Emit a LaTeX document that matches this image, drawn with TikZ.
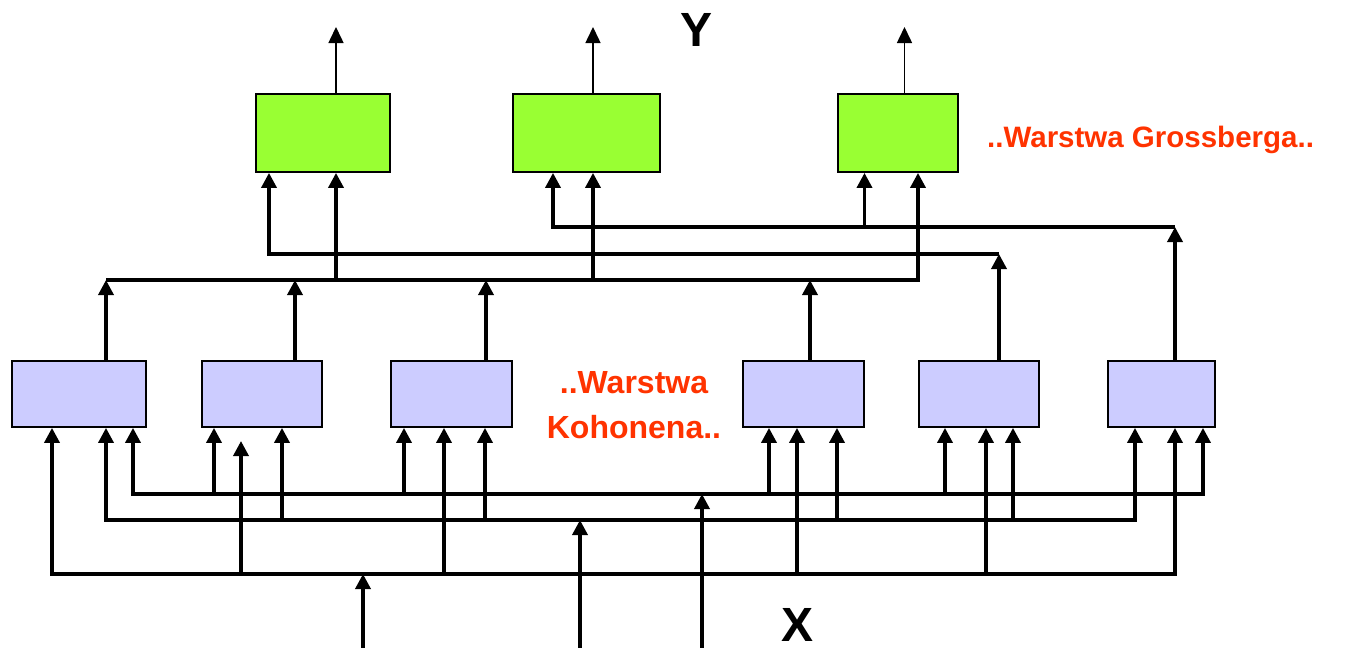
\documentclass[tikz,border=0pt]{standalone}
\usepackage{fontspec}
\setmainfont{Liberation Sans}
\usetikzlibrary{arrows.meta}
\definecolor{kohfill}{RGB}{204,204,255}
\definecolor{grossfill}{RGB}{153,255,51}
\definecolor{layertext}{RGB}{255,51,0}

\begin{document}
\begin{tikzpicture}[x=1pt,y=-1pt,
  unit/.style={draw=black, line width=1.8pt, inner sep=0pt},
  kohunit/.style={unit, fill=kohfill, minimum height=66pt},
  grossunit/.style={unit, fill=grossfill, minimum height=78pt},
  wire/.style={line width=3.5pt, line join=miter},
  feed/.style={wire, -{Triangle[width=15pt,length=15pt]}},
  outwire/.style={line width=1.5pt, -{Triangle[width=15pt,length=16pt]}},
  layerlabel/.style={font=\bfseries\fontsize{32}{45}\selectfont, text=layertext, inner sep=0pt},
  varlabel/.style={font=\bfseries\fontsize{48}{48}\selectfont, inner sep=0pt}
]
\useasboundingbox (0,0) rectangle (1345,648);

% Kohonen layer
\node[kohunit, minimum width=134pt] (K1) at (79,394) {};
\node[kohunit, minimum width=120pt] (K2) at (262,394) {};
\node[kohunit, minimum width=121pt] (K3) at (451.5,394) {};
\node[kohunit, minimum width=121pt] (K4) at (803.5,394) {};
\node[kohunit, minimum width=120pt] (K5) at (979,394) {};
\node[kohunit, minimum width=107pt] (K6) at (1161.5,394) {};

% Grossberg layer
\node[grossunit, minimum width=134pt] (G1) at (323,133) {};
\node[grossunit, minimum width=147pt] (G2) at (586.5,133) {};
\node[grossunit, minimum width=120pt] (G3) at (898,133) {};

% bus levels
\coordinate (pbus) at (0,494);
\coordinate (qbus) at (0,520);
\coordinate (rbus) at (0,574);
\coordinate (abus) at (0,280);
\coordinate (bbus) at (0,254);
\coordinate (cbus) at (0,227);
\coordinate (ytop) at (0,27);
\coordinate (xbot) at (0,648);

% input lines
\draw[feed] (xbot -| 363,0) -- (rbus -| 363,0);
\draw[feed] (xbot -| 580,0) -- (qbus -| 580,0);
\draw[feed] (xbot -| 702,0) -- (pbus -| 702,0);

% input bus R
\draw[wire, {Triangle[width=15pt,length=15pt]}-{Triangle[width=15pt,length=15pt]}]
  (K1.south -| 52,0) -- (rbus -| 52,0) -- (rbus -| 1175,0) -- (K6.south -| 1175,0);
\foreach \n/\x in {K3/444, K4/797, K5/986}
  \draw[feed] (rbus -| \x,0) -- (\n.south -| \x,0);
\coordinate (k2gap) at (241,441);
\draw[feed] (rbus -| k2gap) -- (k2gap);

% input bus Q
\draw[wire, {Triangle[width=15pt,length=15pt]}-{Triangle[width=15pt,length=15pt]}]
  (K1.south -| 106,0) -- (qbus -| 106,0) -- (qbus -| 1135,0) -- (K6.south -| 1135,0);
\foreach \n/\x in {K2/282, K3/485, K4/837, K5/1013}
  \draw[feed] (qbus -| \x,0) -- (\n.south -| \x,0);

% input bus P
\draw[wire, {Triangle[width=15pt,length=15pt]}-{Triangle[width=15pt,length=15pt]}]
  (K1.south -| 133,0) -- (pbus -| 133,0) -- (pbus -| 1203,0) -- (K6.south -| 1203,0);
\foreach \n/\x in {K2/214, K3/404, K4/769, K5/945}
  \draw[feed] (pbus -| \x,0) -- (\n.south -| \x,0);

% Kohonen outputs to bus A
\foreach \n/\x in {K1/106, K2/295, K3/486, K4/810}
  \draw[feed] (\n.north -| \x,0) -- (abus -| \x,0);
\draw[feed] (abus -| 106,0) -- (abus -| 918,0) -- (G3.south -| 918,0);
\draw[feed] (abus -| 336,0) -- (G1.south -| 336,0);
\draw[feed] (abus -| 593,0) -- (G2.south -| 593,0);

% bus B
\draw[feed] (K5.north -| 999,0) -- (bbus -| 999,0);
\draw[feed] (bbus -| 999,0) -- (bbus -| 269,0) -- (G1.south -| 269,0);

% bus C
\draw[feed] (K6.north -| 1175,0) -- (cbus -| 1175,0);
\draw[feed] (cbus -| 1175,0) -- (cbus -| 553,0) -- (G2.south -| 553,0);
\draw[feed] (cbus -| 864.5,0) -- (G3.south -| 864.5,0);

% outputs
\foreach \n/\x in {G1/336, G2/593, G3/904.5}
  \draw[outwire] (\n.north -| \x,0) -- (ytop -| \x,0);

% labels
\node[varlabel, anchor=base] (ylab) at (697,46) {Y};
\node[varlabel, anchor=base] (xlab) at (798,641) {X};
\node[layerlabel, font=\bfseries\fontsize{29.5}{35}\selectfont, anchor=base west] (glab) at (987,147) {..Warstwa Grossberga..};
\node[layerlabel, align=center, anchor=base] (klab) at (634,438) {..Warstwa\\Kohonena..};
\end{tikzpicture}
\end{document}
